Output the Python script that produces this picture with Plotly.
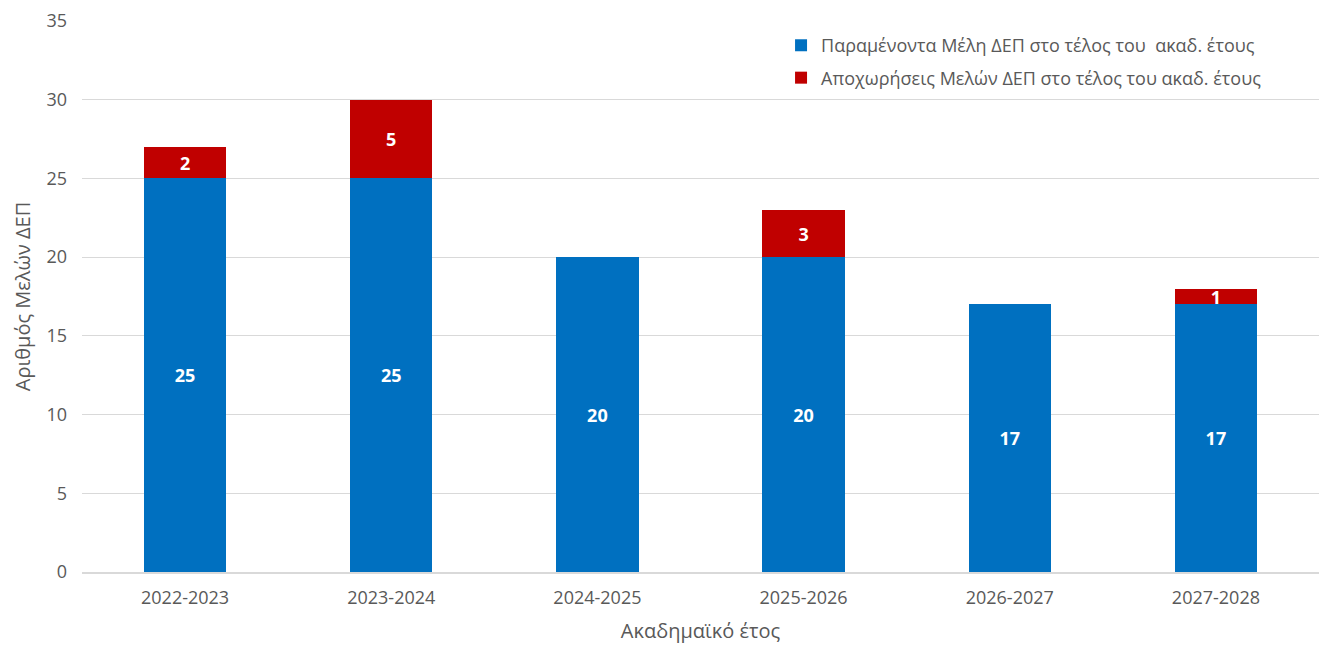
import plotly.graph_objects as go

years = ["2022-2023", "2023-2024", "2024-2025", "2025-2026", "2026-2027", "2027-2028"]
remaining = [25, 25, 20, 20, 17, 17]
departures = [2, 5, 0, 3, 0, 1]

blue = "#0070C0"
red = "#C00000"
gray = "#595959"
font_family = "Open Sans, Liberation Sans, sans-serif"

dep_vals = [d if d > 0 else None for d in departures]
dep_text = [str(d) if d > 0 else "" for d in departures]

label_font = dict(color="white", size=18, family="Open Sans", weight="bold")

fig = go.Figure()
fig.add_trace(go.Bar(
    x=years, y=remaining, name="Παραμένοντα Μέλη ΔΕΠ στο τέλος του  ακαδ. έτους",
    legendgroup="a",
    marker=dict(color=blue, line=dict(width=0)),
    text=[str(v) for v in remaining], textposition="inside", insidetextanchor="middle",
    textfont=label_font, textangle=0,
))
fig.add_trace(go.Bar(
    x=years, y=dep_vals, name="Αποχωρήσεις Μελών ΔΕΠ στο τέλος του ακαδ. έτους",
    legendgroup="b",
    marker=dict(color=red, line=dict(width=0)),
    text=dep_text, textposition="inside", insidetextanchor="middle",
    textfont=label_font, textangle=0,
))

fig.update_layout(
    barmode="stack",
    bargap=0.6,
    width=1319, height=647,
    margin=dict(l=82, r=0, t=21, b=75),
    plot_bgcolor="white", paper_bgcolor="white",
    font=dict(family=font_family, color=gray),
    uniformtext=dict(minsize=18, mode="show"),
    legend=dict(
        x=0.958, y=0.989, xanchor="right", yanchor="top",
        bgcolor="rgba(255,255,255,0)",
        font=dict(size=18, color=gray, family=font_family),
        itemwidth=30, tracegroupgap=6, traceorder="grouped",
    ),
    xaxis=dict(
        title=dict(text="Ακαδημαϊκό έτος", font=dict(size=20, color=gray), standoff=16),
        tickfont=dict(size=18, color=gray),
        ticklabelstandoff=8,
        showline=True, linecolor="#D9D9D9", linewidth=2,
        ticks="", showgrid=False, automargin=False,
    ),
    yaxis=dict(
        title=dict(text="Αριθμός Μελών ΔΕΠ", font=dict(size=20, color=gray), standoff=10),
        tickfont=dict(size=18, color=gray),
        ticklabelstandoff=14,
        range=[0, 35], dtick=5,
        showgrid=True, gridcolor="#D9D9D9", gridwidth=1,
        zeroline=False, ticks="", automargin=False,
    ),
)

fig.write_html("out.html", config={"displayModeBar": False},
               post_script="document.body.style.margin='0';")
